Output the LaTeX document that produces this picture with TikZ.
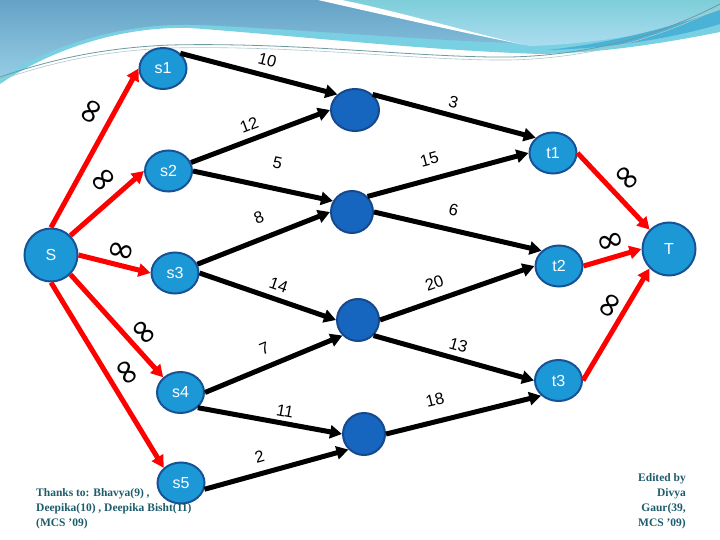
\documentclass[tikz,border=0pt]{standalone}
\usepackage{fontspec}
\usetikzlibrary{shapes.geometric,arrows.meta}
\newfontfamily\lsans{Liberation Sans}
\newfontfamily\dvs{DejaVu Sans}
\newfontfamily\lserif{Liberation Serif}
\definecolor{lightnode}{RGB}{28,152,214}
\definecolor{nodeedge}{RGB}{24,82,150}
\definecolor{midnode}{RGB}{22,102,192}
\definecolor{midedge}{RGB}{22,72,140}
\definecolor{creditcol}{RGB}{30,92,108}
\definecolor{steelA}{RGB}{100,162,198}
\definecolor{steelB}{RGB}{150,205,228}
\definecolor{bandbase}{RGB}{120,208,226}
\definecolor{cyanA}{RGB}{126,206,218}
\definecolor{cyanB}{RGB}{172,220,240}
\definecolor{ribboncol}{RGB}{74,178,214}
\definecolor{thinline}{RGB}{110,155,160}
\begin{document}
\begin{tikzpicture}[x=1pt,y=-1pt,
  vertex/.style={ellipse, draw=nodeedge, line width=2pt, fill=lightnode, text=white,
    font=\lsans\fontsize{16}{18}\selectfont, minimum width=47pt, minimum height=41pt, inner sep=0pt},
  bigvertex/.style={vertex, minimum width=53pt, minimum height=53pt},
  midv/.style={ellipse, draw=midedge, line width=2pt, fill=midnode,
    minimum width=42pt, minimum height=42pt, inner sep=0pt},
  flow/.style={line width=5pt, black, -{Triangle[length=12pt,width=13pt]}},
  inflow/.style={flow, red},
  wlab/.style={sloped, inner sep=0pt, font=\lsans\fontsize{16.5}{18}\selectfont, text=black},
  inflab/.style={sloped, inner sep=0pt, font=\dvs\fontsize{35}{36}\selectfont, text=black},
  credits/.style={font=\lserif\bfseries\fontsize{11.5}{15}\selectfont, text=creditcol, inner sep=0pt}]
\useasboundingbox (0,0) rectangle (720,540);
\fill[white] (0,0) rectangle (720,540);
% background decoration
\fill[bandbase] (0,0) -- (720,0) -- (720,32) .. controls (660,44) and (600,53) .. (540,54)
  .. controls (420,50) and (300,36) .. (190,28) .. controls (120,26) and (50,50) .. (0,84) -- cycle;
\shade[top color=steelA,bottom color=steelB] (0,0) -- (320,0) .. controls (380,14) and (450,30) .. (515,43)
  .. controls (420,40) and (310,30) .. (200,25) .. controls (120,22) and (50,46) .. (0,78) -- cycle;
\shade[top color=cyanA,bottom color=cyanB] (335,0) -- (720,0) -- (720,16)
  .. controls (670,30) and (600,44) .. (530,46) .. controls (470,32) and (400,12) .. (335,0) -- cycle;
\fill[ribboncol] (548,50) .. controls (620,42) and (680,24) .. (720,10) -- (720,24)
  .. controls (680,36) and (620,48) .. (548,50) -- cycle;
\fill[white] (318,0) -- (342,0) .. controls (400,12) and (465,31) .. (525,45)
  .. controls (455,31) and (380,14) .. (318,0) -- cycle;
\draw[thinline, line width=0.8pt] (0,77) .. controls (50,60) and (100,48) .. (170,45)
  .. controls (300,42) and (420,58) .. (510,57) .. controls (600,55) and (670,30) .. (720,4);
\draw[thinline!55, line width=0.6pt] (0,80) .. controls (50,63) and (100,51) .. (170,48)
  .. controls (300,45) and (420,61) .. (510,60) .. controls (600,58) and (670,33) .. (720,7);
% nodes
\node[bigvertex] (S) at (51,255) {S};
\node[vertex] (s1) at (163,68.5) {s1};
\node[vertex] (s2) at (168.5,171) {s2};
\node[vertex] (s3) at (175,273) {s3};
\node[vertex] (s4) at (180.5,392.5) {s4};
\node[vertex] (s5) at (181,483) {s5};
\node[midv, minimum width=48pt] (m1) at (355,110) {};
\node[midv] (m2) at (352,212) {};
\node[midv] (m3) at (358,320) {};
\node[midv] (m4) at (364,434) {};
\node[vertex] (t1) at (553,153) {t1};
\node[vertex] (t2) at (559,266) {t2};
\node[vertex] (t3) at (558.5,380.5) {t3};
\node[bigvertex] (T) at (669,249) {T};
% black edges
\draw[flow] (s1.north east) -- node[wlab,pos=0.53,above=7pt]{10} (m1.north west);
\draw[flow] (s2) -- node[wlab,pos=0.456,above=6.6pt]{12} (m1.west);
\draw[flow] (s2.east) -- node[wlab,pos=0.565,above=17.7pt]{5} (m2.150);
\draw[flow] (s3) -- node[wlab,pos=0.52,above=12.4pt]{8} (m2.west);
\draw[flow] (s3.east) -- node[wlab,pos=0.545,above=6.3pt]{14} (m3.west);
\draw[flow] (s4.east) -- node[wlab,pos=0.482,above=9.9pt]{7} (m3.south west);
\draw[flow] (s4.south east) -- node[wlab,pos=0.59,above=4.1pt]{11} (m4.west);
\draw[flow] (s5.-15) -- node[wlab,pos=0.415,above=8.9pt]{2} (m4.south west);
\draw[flow] (m1.north east) -- node[wlab,pos=0.475,above=5.2pt]{3} (t1.north west);
\draw[flow] (m2.north east) -- node[wlab,pos=0.416,above=11.4pt]{15} (t1.west);
\draw[flow] (m2.east) -- node[wlab,pos=0.449,above=11.2pt]{6} (t2.north west);
\draw[flow] (m3.east) -- node[wlab,pos=0.388,above=8.8pt]{20} (t2.west);
\draw[flow] (m3.south east) -- node[wlab,pos=0.506,above=5.4pt]{13} (t3.west);
\draw[flow] (m4.east) -- node[wlab,pos=0.348,above=13pt]{18} (t3.south west);
% red edges
\draw[inflow] (S.north) -- node[inflab,pos=0.665,above=7.5pt]{∞} (s1.west);
\draw[inflow] (S.north east) -- node[inflab,pos=0.627,above=6.5pt]{∞} (s2.west);
\draw[inflow] (S.east) -- node[inflab,pos=0.548,above=1.2pt]{∞} (s3.west);
\draw[inflow] (S.south east) -- node[inflab,pos=0.67,above=2.8pt]{∞} (s4.north west);
\draw[inflow] (S.south) -- node[inflab,pos=0.534,above=5pt]{∞} (s5.north west);
\draw[inflow] (t1.east) -- node[inflab,pos=0.497,above=6.5pt]{∞} (T.north west);
\draw[inflow] (t2.east) -- node[inflab,pos=0.538,above=3.2pt]{∞} (T.west);
\draw[inflow] (t3.east) -- node[inflab,pos=0.6,above=2.4pt]{∞} (T.south west);
% credits
\node[credits, anchor=north west, align=left] (thanks) at (36,488)
  {Thanks to: Bhavya(9) ,\\ Deepika(10) , Deepika Bisht(11)\\ (MCS ’09)};
\node[credits, anchor=north east, align=right] (edited) at (686,473)
  {Edited by\\ Divya\\ Gaur(39,\\ MCS ’09)};
\end{tikzpicture}
\end{document}
